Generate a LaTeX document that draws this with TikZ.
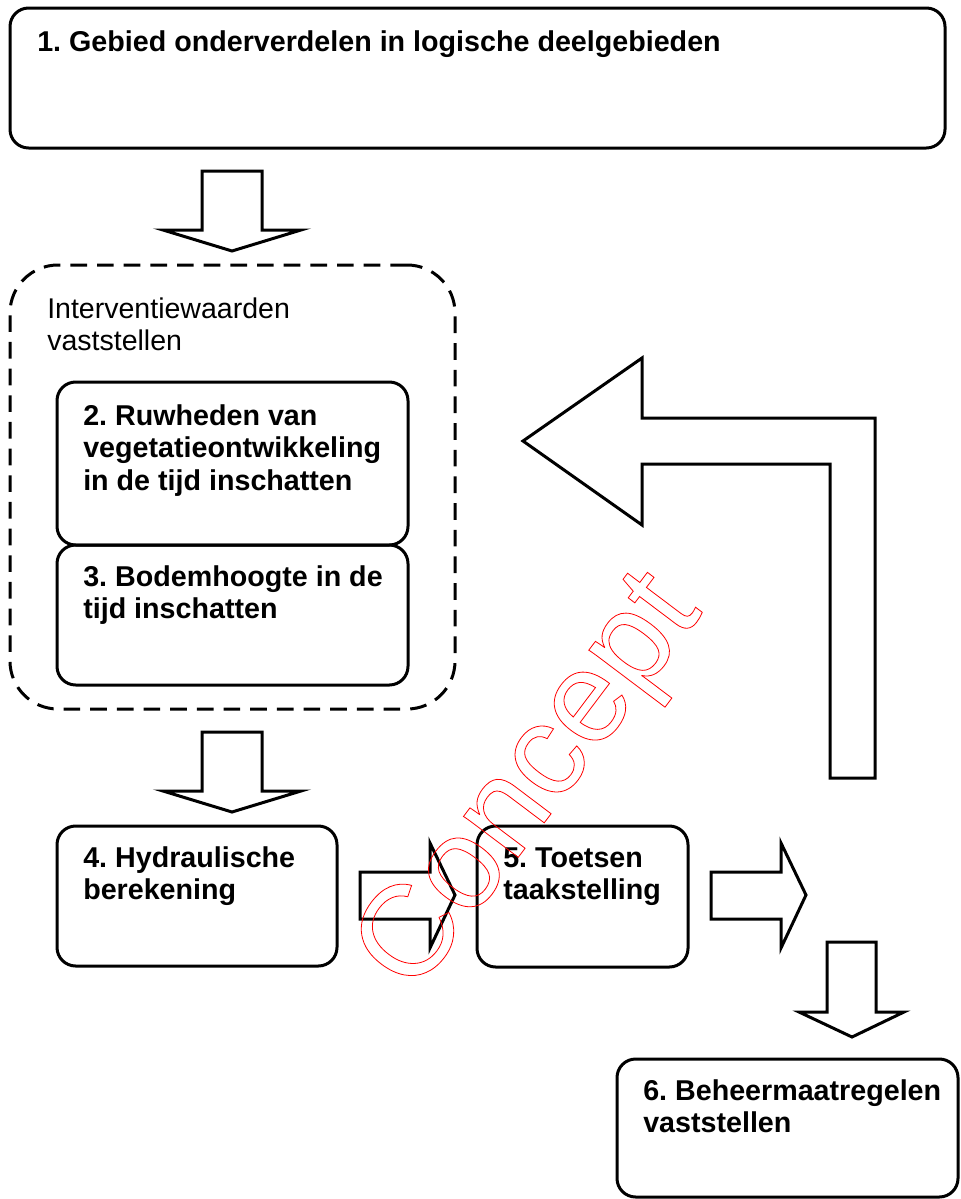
\documentclass[tikz,border=0pt]{standalone}
\usepackage{fontspec}
\setmainfont{Liberation Sans}
\usetikzlibrary{fit}
\frenchspacing
\tikzset{
  box/.style={draw, line width=2.25pt, rounded corners=14pt, inner sep=0pt},
  dashbox/.style={draw, line width=2.25pt, rounded corners=36pt, inner sep=0pt, dash pattern=on 12.5pt off 7.5pt},
  blk/.style={draw, line width=2.25pt, fill=white, line join=miter},
  lbl/.style={anchor=base west, inner sep=0pt},
  wmark/.style={rotate=53, inner sep=0pt, text=red, font=\fontsize{97}{97}\selectfont},
}
\newcommand{\boxtext}[2]{\parbox[t]{#1}{\raggedright\bfseries\fontsize{21.5}{24.6}\selectfont #2}}
\newcommand{\plaintext}[2]{\parbox[t]{#1}{\raggedright\fontsize{21.4}{24.2}\selectfont #2}}
\newcommand{\outlinetext}[1]{\special{pdf:code 1 Tr 0.6 w}#1\special{pdf:code 0 Tr}}
\begin{document}
\begin{tikzpicture}[x=0.75pt,y=-0.75pt]
\useasboundingbox (0,0) rectangle (960,1199);
% boxes
\node[box, fit={(10,8) (945,148)}] (b1) {};
\node[dashbox, fit={(10,265) (455,709)}] (grp) {};
\node[box, fit={(57,382) (408,545)}] (b2) {};
\node[box, fit={(57,545) (408,685)}] (b3) {};
\node[box, fit={(57,826) (337,966)}] (b4) {};
\node[box, fit={(477,826) (688,967)}] (b5) {};
\node[box, fit={(617,1059) (958,1197)}] (b6) {};
% texts
\node[lbl] (t1) at (37,51) {\boxtext{900\dimexpr0.75pt}{1. Gebied onderverdelen in logische deelgebieden}};
\node[lbl] (ti) at (47,318) {\plaintext{360\dimexpr0.75pt}{Interventiewaarden\\vaststellen}};
\node[lbl] (t2) at (83,425) {\boxtext{320\dimexpr0.75pt}{2. Ruwheden van\\vegetatieontwikkeling\\in de tijd inschatten}};
\node[lbl] (t3) at (83,586) {\boxtext{320\dimexpr0.75pt}{3. Bodemhoogte in de\\tijd inschatten}};
\node[lbl] (t4) at (83,867) {\boxtext{250\dimexpr0.75pt}{4. Hydraulische\\berekening}};
\node[lbl] (t5) at (503,867) {\boxtext{200\dimexpr0.75pt}{5. Toetsen\\taakstelling}};
\node[lbl] (t6) at (643,1100) {\boxtext{310\dimexpr0.75pt}{6. Beheermaatregelen\\vaststellen}};
% block arrows
\draw[blk] (202,171) -- (262,171) -- (262,230) -- (301,230) -- (232,251) -- (163,230) -- (202,230) -- cycle;
\draw[blk] (202,732) -- (262,732) -- (262,791) -- (301,791) -- (232,812) -- (163,791) -- (202,791) -- cycle;
\draw[blk] (360,872) -- (430,872) -- (430,843) -- (455,895) -- (430,948) -- (430,919) -- (360,919) -- cycle;
\draw[blk] (711,872) -- (781,872) -- (781,843) -- (806,895) -- (781,948) -- (781,919) -- (711,919) -- cycle;
\draw[blk] (827,942) -- (876,942) -- (876,1012) -- (904,1012) -- (852,1037) -- (799,1012) -- (827,1012) -- cycle;
\draw[blk] (830,778) -- (875,778) -- (875,418) -- (642,418) -- (642,358) -- (523,441) -- (642,525) -- (642,464) -- (830,464) -- cycle;
% watermark
\node[wmark] (wm) at (533,785) {\outlinetext{Concept}};
\end{tikzpicture}
\end{document}
